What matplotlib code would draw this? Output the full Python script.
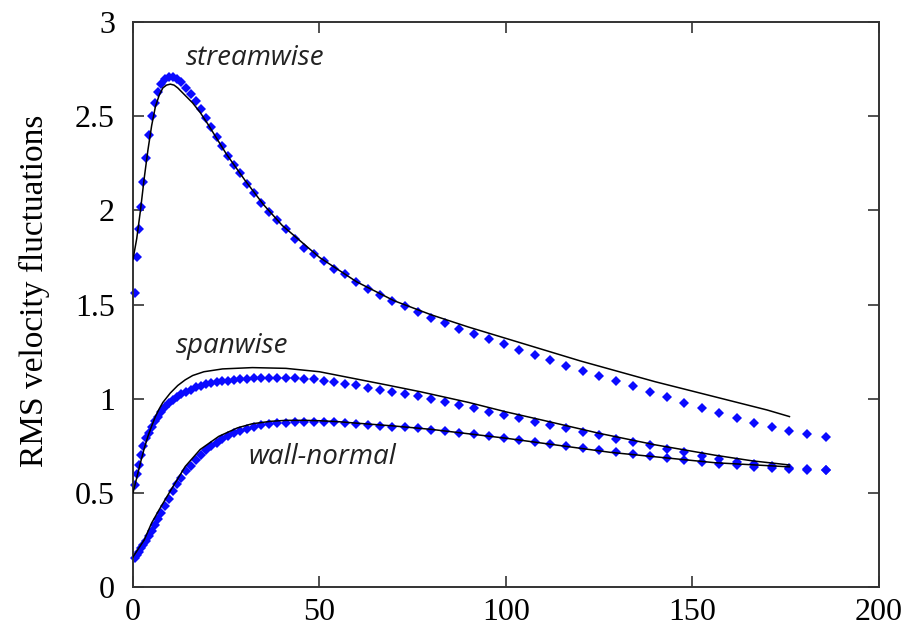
import numpy as np
import matplotlib
matplotlib.use("Agg")
import matplotlib.pyplot as plt

# wall distance of the sample points (shared by the three data sets)
y_plus = [0.5, 1.0, 1.5, 2.1, 2.8, 3.5, 4.2, 5.0, 5.8, 6.7,
          7.6, 8.6, 9.6, 10.7, 11.8, 13.0, 14.2, 15.5, 16.8, 18.1,
          19.5, 20.9, 22.4, 23.9, 25.4, 27.0, 28.7, 30.5, 32.4, 34.4,
          36.5, 38.7, 41.0, 43.4, 45.9, 48.5, 51.2, 54.0, 56.9, 59.9,
          63.0, 66.2, 69.5, 72.9, 76.4, 80.0, 83.7, 87.5, 91.4, 95.4,
          99.4, 103.5, 107.7, 111.9, 116.2, 120.6, 125.0, 129.5, 134.0, 138.6,
          143.2, 147.8, 152.5, 157.2, 161.9, 166.6, 171.3, 176.0, 180.8, 185.7]

u_rms = [1.56, 1.75, 1.90, 2.02, 2.15, 2.28, 2.40, 2.50, 2.57, 2.63,
         2.67, 2.70, 2.71, 2.71, 2.70, 2.68, 2.65, 2.62, 2.58, 2.54,
         2.49, 2.44, 2.39, 2.34, 2.29, 2.24, 2.20, 2.14, 2.09, 2.04,
         1.99, 1.95, 1.90, 1.85, 1.80, 1.77, 1.73, 1.69, 1.66, 1.62,
         1.58, 1.55, 1.52, 1.49, 1.46, 1.43, 1.40, 1.37, 1.345, 1.317,
         1.289, 1.261, 1.233, 1.204, 1.176, 1.148, 1.122, 1.096, 1.066, 1.036,
         1.008, 0.979, 0.952, 0.925, 0.899, 0.873, 0.848, 0.826, 0.810, 0.795]

w_rms = [0.54, 0.60, 0.65, 0.70, 0.75, 0.79, 0.82, 0.85, 0.88, 0.905,
         0.93, 0.955, 0.975, 0.995, 1.01, 1.025, 1.037, 1.048, 1.06, 1.068,
         1.076, 1.082, 1.087, 1.092, 1.096, 1.100, 1.104, 1.106, 1.108, 1.110,
         1.112, 1.112, 1.112, 1.110, 1.107, 1.102, 1.096, 1.087, 1.079, 1.070,
         1.057, 1.047, 1.035, 1.024, 1.012, 0.998, 0.982, 0.966, 0.949, 0.931,
         0.913, 0.896, 0.878, 0.860, 0.842, 0.824, 0.806, 0.788, 0.770, 0.752,
         0.734, 0.716, 0.697, 0.680, 0.665, 0.652, 0.641, 0.632, 0.625, 0.620]

v_rms = [0.155, 0.17, 0.185, 0.205, 0.225, 0.245, 0.27, 0.30, 0.33, 0.36,
         0.395, 0.43, 0.47, 0.51, 0.545, 0.58, 0.615, 0.645, 0.675, 0.70,
         0.725, 0.747, 0.767, 0.786, 0.802, 0.817, 0.830, 0.841, 0.851, 0.859,
         0.865, 0.870, 0.873, 0.875, 0.876, 0.876, 0.876, 0.874, 0.870, 0.866,
         0.862, 0.857, 0.852, 0.847, 0.842, 0.836, 0.828, 0.819, 0.810, 0.800,
         0.790, 0.780, 0.770, 0.760, 0.749, 0.738, 0.727, 0.715, 0.704, 0.694,
         0.684, 0.674, 0.664, 0.654, 0.646, 0.639, 0.633, 0.628, 0.622, 0.619]

# reference curves (black lines)
u_line_x = [0, 1, 2, 3, 4, 5, 6, 7, 8, 9, 10, 11, 12, 14, 16, 18, 20, 25, 30, 35,
            40, 50, 60, 70, 80, 90, 100, 110, 120, 130, 140, 150, 160, 170, 176]
u_line_y = [1.74, 1.85, 2.00, 2.17, 2.32, 2.45, 2.55, 2.61, 2.65, 2.665, 2.67, 2.665,
            2.65, 2.61, 2.57, 2.52, 2.46, 2.30, 2.16, 2.03, 1.92, 1.75, 1.62, 1.52,
            1.445, 1.38, 1.32, 1.26, 1.20, 1.145, 1.09, 1.04, 0.99, 0.94, 0.905]

w_line_x = [0, 1, 2, 3, 4, 5, 6, 7, 8, 10, 12, 14, 16, 19, 24, 32, 41, 50, 59,
            68, 77, 90, 100, 110, 125, 140, 156, 166, 176]
w_line_y = [0.50, 0.58, 0.66, 0.735, 0.80, 0.855, 0.905, 0.945, 0.98, 1.03, 1.07,
            1.10, 1.123, 1.143, 1.158, 1.165, 1.161, 1.143, 1.108, 1.073, 1.037,
            0.98, 0.93, 0.885, 0.816, 0.755, 0.70, 0.67, 0.648]

v_line_x = [0, 3, 5, 7, 10, 14, 18, 23, 28, 32, 37, 41, 46, 50, 55, 60, 70, 80,
            100, 128, 156, 176]
v_line_y = [0.16, 0.25, 0.34, 0.41, 0.51, 0.64, 0.73, 0.80, 0.845, 0.867, 0.88,
            0.885, 0.885, 0.883, 0.878, 0.87, 0.855, 0.837, 0.79, 0.715, 0.66, 0.638]

labels = ["streamwise", "spanwise", "wall-normal"]
label_pos = [(32.7, 2.81), (26.5, 1.28), (50.7, 0.69)]

plt.rcParams['font.family'] = ['Liberation Serif', 'DejaVu Serif']

fig = plt.figure(figsize=(9.23, 6.34), dpi=100)
ax = fig.add_axes([0.1441, 0.0741, 0.8082, 0.8912])

for lx, ly in [(u_line_x, u_line_y), (w_line_x, w_line_y), (v_line_x, v_line_y)]:
    ax.plot(lx, ly, color="black", lw=1.1, zorder=3)

for series in [u_rms, w_rms, v_rms]:
    ax.plot(y_plus, series, linestyle="none", marker="D", markersize=5.2,
            markerfacecolor="#0a0aff", markeredgewidth=0, zorder=2,
            clip_on=False)

for txt, (tx, ty) in zip(labels, label_pos):
    ax.text(tx, ty, txt, fontsize=20, style="italic", family="Open Sans",
            ha="center", va="center", color="#222222")

ax.set_xlim(0, 200)
ax.set_ylim(0, 3)
ax.set_xticks([0, 50, 100, 150, 200])
ax.set_yticks([0, 0.5, 1, 1.5, 2, 2.5, 3])
ax.set_yticklabels(["0", "0.5", "1", "1.5", "2", "2.5", "3"])
ax.tick_params(direction="in", length=8, width=1.2, top=True, right=True,
               labelsize=23, color="#333333")
ax.tick_params(axis="y", pad=13)
ax.tick_params(axis="x", pad=8)
for sp in ax.spines.values():
    sp.set_linewidth(1.4)
    sp.set_color("#333333")

ax.set_ylabel("RMS velocity fluctuations", fontsize=24)
ax.yaxis.set_label_coords(-0.111, 0.525)

fig.savefig("out.png", dpi=100)
